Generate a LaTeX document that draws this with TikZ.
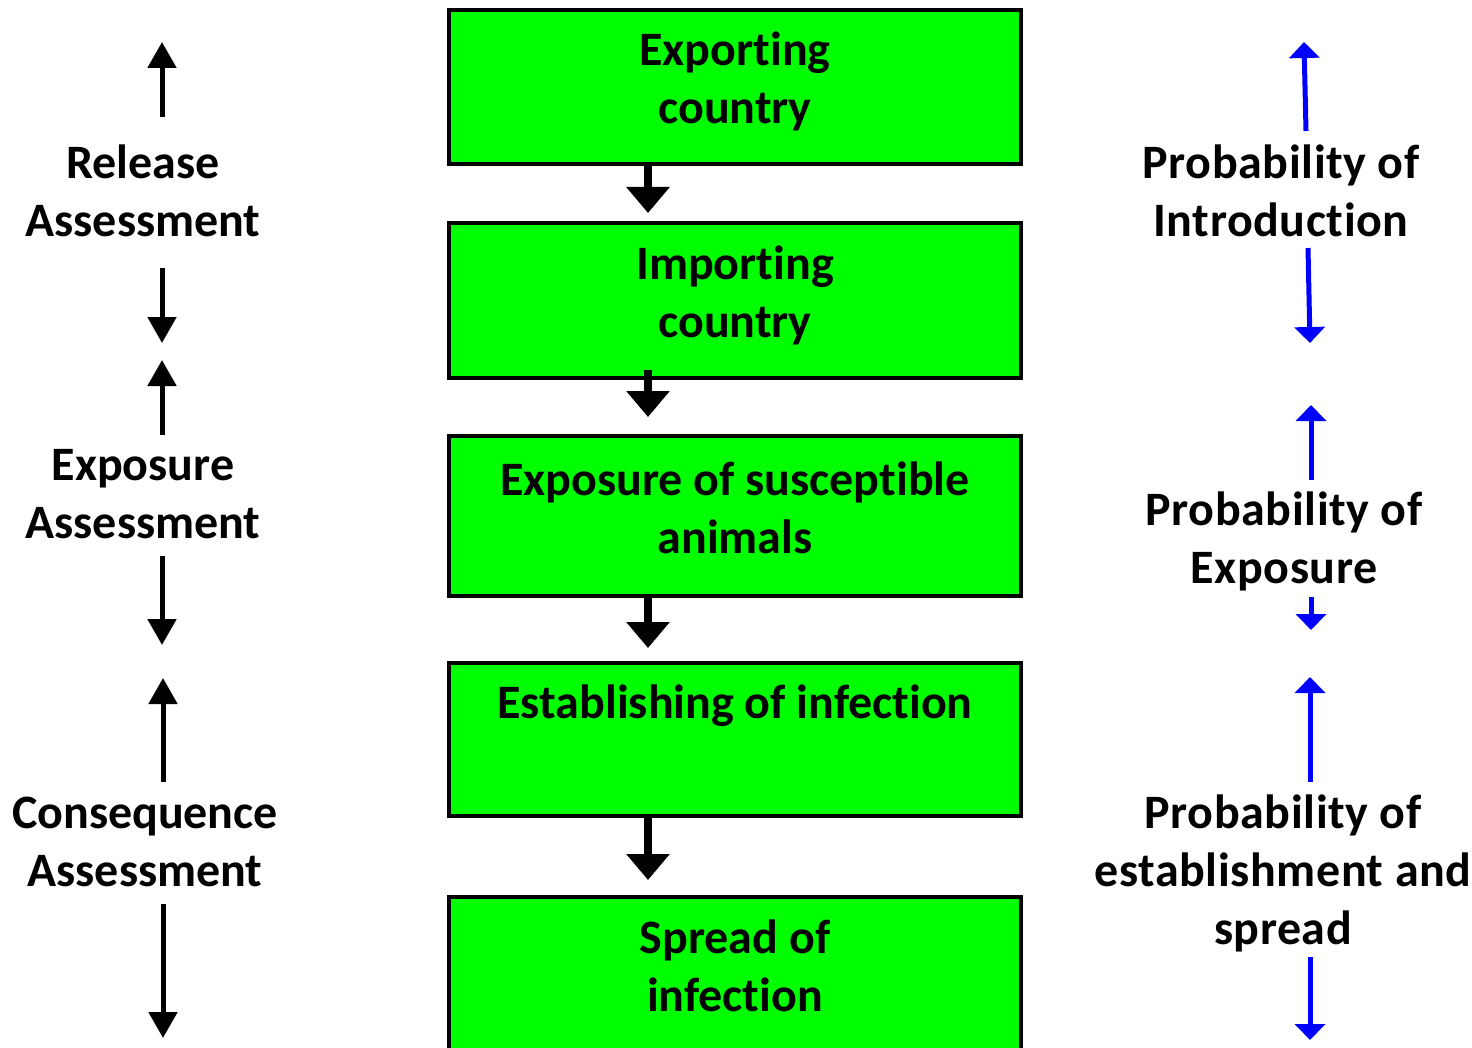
\documentclass[tikz,border=0pt]{standalone}
\usepackage{fontspec}
\setmainfont{Carlito}[Ligatures=NoCommon]
\usetikzlibrary{arrows.meta,positioning}

\definecolor{stagegreen}{RGB}{0,255,0}

\begin{document}
\begin{tikzpicture}[
  x=0.5pt, y=-0.5pt,
  every node/.style={font=\fontsize{24}{29}\selectfont\bfseries},
  stagebox/.style={
    draw=black,
    fill=stagegreen,
    line width=2pt,
    align=center,
    minimum width=286pt,
    minimum height=77pt,
    text height=37pt,
    text depth=0pt,
    inner sep=0pt
  },
  sidetext/.style={align=center, inner sep=0pt},
  probtext/.style={sidetext, font=\fontsize{24}{29}\selectfont\bfseries\addfontfeatures{LetterSpace=1.2}},
  flowarrow/.style={-{Triangle[width=21pt, length=13pt]}, line width=4pt},
  sidearrow/.style={-{Triangle[width=14pt, length=13pt]}, line width=2.5pt},
  probarrow/.style={-{Triangle[width=15pt, length=8pt]}, line width=2.5pt, blue}
]
\clip (0,0) rectangle (1472,1048);

% stages of the pathway
\node[stagebox] (export) at (735,87) {Exporting\\country};
\node[stagebox, minimum height=77.5pt, below=27.5pt of export] (import) {Importing\\country};
\node[stagebox, minimum height=80pt, below=27pt of import] (expose) {Exposure of susceptible\\animals};
\node[stagebox, minimum height=76.5pt, below=31.5pt of expose] (establish) {Establishing of infection\\\mbox{}};
\node[stagebox, below=38.5pt of establish] (spread) {Spread of\\infection};

\coordinate (spine) at (648,0);
\draw[flowarrow, shorten >=4pt] (export.south -| spine) -- (import.north -| spine);
\draw[flowarrow, shorten <=-5pt, shorten >=8.5pt] (import.south -| spine) -- (expose.north -| spine);
\draw[flowarrow, shorten >=6.5pt] (expose.south -| spine) -- (establish.north -| spine);
\draw[flowarrow, shorten <=-1.5pt, shorten >=7.5pt] (establish.south -| spine) -- (spread.north -| spine);

% assessments, left
\node[sidetext] (release) at (143,191) {Release\\Assessment};
\node[sidetext] (exposure) at (143,494) {Exposure\\Assessment};
\node[sidetext] (consequence) at (145,842) {Consequence\\Assessment};

\coordinate (rel up a) at (162,117);  \coordinate (rel up b) at (162,42);
\coordinate (rel dn a) at (162,268);  \coordinate (rel dn b) at (162,343);
\coordinate (exp up a) at (162,435);  \coordinate (exp up b) at (162,360);
\coordinate (exp dn a) at (162,556);  \coordinate (exp dn b) at (162,645);
\coordinate (con up a) at (163,782);  \coordinate (con up b) at (163,678);
\coordinate (con dn a) at (163,904);  \coordinate (con dn b) at (163,1038);

\foreach \a in {rel up, rel dn, exp up, exp dn, con up, con dn}
  \draw[sidearrow] (\a\space a) -- (\a\space b);

% probabilities, right
\node[probtext] (introduction) at (1281,191) {Probability of\\Introduction};
\node[probtext] (exposed) at (1284,541) {Probability of\\Exposure};
\node[probtext] (established) at (1283,873) {Probability of\\establishment and\\spread};

\coordinate (int up a) at (1306,131);  \coordinate (int up b) at (1304,42);
\coordinate (int dn a) at (1308,248);  \coordinate (int dn b) at (1310,343);
\coordinate (pex up a) at (1311,480);  \coordinate (pex up b) at (1311,405);
\coordinate (pex dn a) at (1311,597);  \coordinate (pex dn b) at (1311,630);
\coordinate (est up a) at (1310,782);  \coordinate (est up b) at (1310,677);
\coordinate (est dn a) at (1310,957);  \coordinate (est dn b) at (1310,1040);

\foreach \a in {int up, int dn, pex up, pex dn, est up, est dn}
  \draw[probarrow] (\a\space a) -- (\a\space b);

\end{tikzpicture}
\end{document}
